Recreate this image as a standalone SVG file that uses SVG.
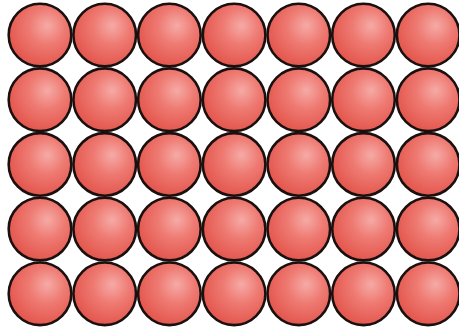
<svg xmlns="http://www.w3.org/2000/svg" width="459" height="328" viewBox="0 0 459 328">
<defs>
<radialGradient id="g" cx="0.6" cy="0.38" r="0.65" fx="0.62" fy="0.35">
<stop offset="0" stop-color="#f6aaa6"/>
<stop offset="0.45" stop-color="#ee7a72"/>
<stop offset="1" stop-color="#e3554c"/>
</radialGradient>
<circle id="s" r="31.3" fill="url(#g)" stroke="#1a1010" stroke-width="2.6"/>
</defs>
<style>use{}</style>
<rect width="459" height="328" fill="#ffffff"/>
<g id="r1"><use href="#s" x="40" y="35"/><use href="#s" x="104.7" y="35"/><use href="#s" x="169.4" y="35"/><use href="#s" x="234.1" y="35"/><use href="#s" x="298.8" y="35"/><use href="#s" x="363.5" y="35"/><use href="#s" x="428.2" y="35"/></g>
<g id="r2"><use href="#s" x="40" y="99.7"/><use href="#s" x="104.7" y="99.7"/><use href="#s" x="169.4" y="99.7"/><use href="#s" x="234.1" y="99.7"/><use href="#s" x="298.8" y="99.7"/><use href="#s" x="363.5" y="99.7"/><use href="#s" x="428.2" y="99.7"/></g>
<g id="r3"><use href="#s" x="40" y="164.4"/><use href="#s" x="104.7" y="164.4"/><use href="#s" x="169.4" y="164.4"/><use href="#s" x="234.1" y="164.4"/><use href="#s" x="298.8" y="164.4"/><use href="#s" x="363.5" y="164.4"/><use href="#s" x="428.2" y="164.4"/></g>
<g id="r4"><use href="#s" x="40" y="229.1"/><use href="#s" x="104.7" y="229.1"/><use href="#s" x="169.4" y="229.1"/><use href="#s" x="234.1" y="229.1"/><use href="#s" x="298.8" y="229.1"/><use href="#s" x="363.5" y="229.1"/><use href="#s" x="428.2" y="229.1"/></g>
<g id="r5"><use href="#s" x="40" y="293.8"/><use href="#s" x="104.7" y="293.8"/><use href="#s" x="169.4" y="293.8"/><use href="#s" x="234.1" y="293.8"/><use href="#s" x="298.8" y="293.8"/><use href="#s" x="363.5" y="293.8"/><use href="#s" x="428.2" y="293.8"/></g>
</svg>
